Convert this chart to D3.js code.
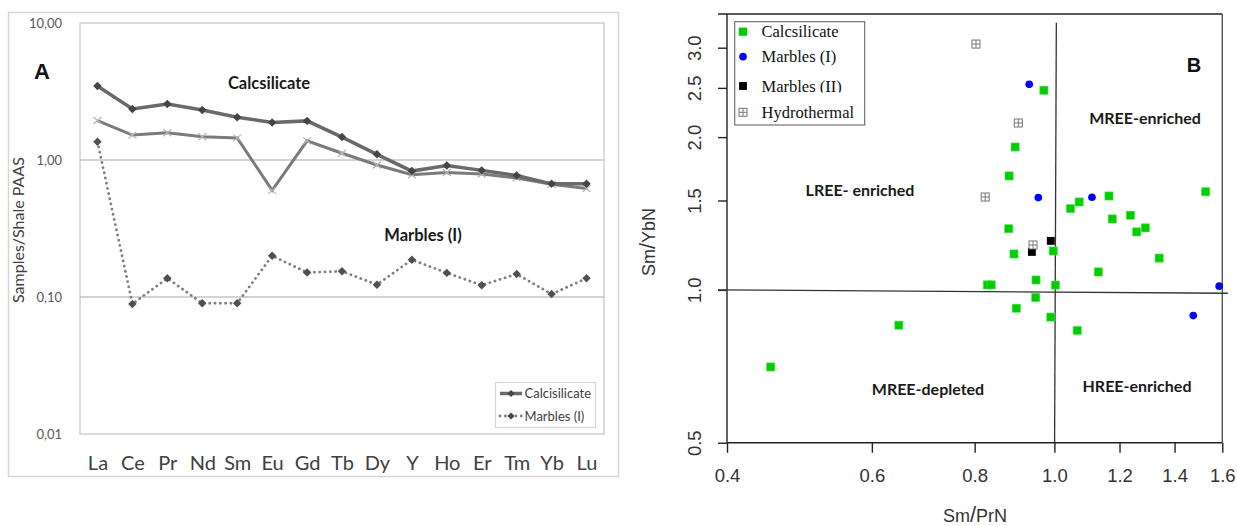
<!DOCTYPE html>
<html><head><meta charset="utf-8">
<script src="https://cdn.jsdelivr.net/npm/d3@7"></script>
<style>body{margin:0;background:#fff}</style>
</head><body><svg id="c" width="1237" height="526"></svg>
<script>
// ---------- Panel A data ----------
const elements = ["La","Ce","Pr","Nd","Sm","Eu","Gd","Tb","Dy","Y","Ho","Er","Tm","Yb","Lu"];
const calcsilicate = [3.47,2.36,2.56,2.32,2.05,1.88,1.93,1.47,1.10,0.83,0.91,0.84,0.77,0.67,0.67];
const calcsilicate2 = [1.94,1.52,1.58,1.48,1.45,0.60,1.38,1.12,0.92,0.78,0.81,0.79,0.74,0.665,0.62];
const marblesA = [1.36,0.089,0.137,0.090,0.090,0.200,0.151,0.154,0.123,0.187,0.150,0.122,0.147,0.105,0.137];
const yTicksA = [0.01,0.1,1,10];

// ---------- Panel B data ----------
const calcSmPr = [0.971,0.896,0.881,0.880,0.893,0.997,0.829,0.838,0.950,1.003,0.949,0.899,0.990,0.647,0.452,1.046,1.072,1.165,1.176,1.237,1.259,1.290,1.341,1.131,1.527,1.066];
const calcSmYb = [2.473,1.912,1.677,1.320,1.177,1.193,1.023,1.023,1.046,1.022,0.966,0.920,0.884,0.852,0.705,1.446,1.490,1.531,1.380,1.403,1.301,1.325,1.155,1.085,1.561,0.832];
const marbIsmPr = [0.932,0.956,1.111,1.586,1.475];
const marbIsmYb = [2.541,1.520,1.522,1.017,0.890];
const marbIIsmPr = [0.990,0.939];
const marbIIsmYb = [1.249,1.188];
const hydroSmPr = [0.803,0.904,0.824,0.942];
const hydroSmYb = [3.050,2.132,1.524,1.226];
const xTicksB = [0.4,0.6,0.8,1.0,1.2,1.4,1.6];
const yTicksB = [0.5,1.0,1.5,2.0,2.5,3.0];
const legendB = ["Calcsilicate","Marbles (I)","Marbles (II)","Hydrothermal"];

const svg = d3.select("#c");
svg.append("rect").attr("width",1237).attr("height",526).attr("fill","#fff");

// ================= Panel A =================
const A = svg.append("g");
const LATO = "Lato, 'Open Sans', sans-serif";
A.append("rect").attr("x",8.5).attr("y",12.5).attr("width",610).attr("height",464)
  .attr("fill","none").attr("stroke","#d6d6d6").attr("stroke-width",1.5);

const xA = d3.scalePoint().domain(elements).range([80,604]).padding(0.5);
const yA = d3.scaleLog().domain([0.01,10]).range([434,23]);

A.append("rect").attr("x",80).attr("y",23).attr("width",524).attr("height",411)
  .attr("fill","none").attr("stroke","#cfcfcf").attr("stroke-width",1.5);
A.selectAll(".grid").data([0.1,1]).join("line")
  .attr("x1",80).attr("x2",604).attr("y1",d=>yA(d)).attr("y2",d=>yA(d))
  .attr("stroke","#c4c4c4").attr("stroke-width",1.5);

const yAxA = A.append("g").attr("transform","translate(80,0)")
  .call(d3.axisLeft(yA).tickValues(yTicksA).tickSize(0).tickPadding(18)
    .tickFormat(d=>d3.format(".2f")(d).replace(".",",")));
yAxA.select(".domain").remove();
yAxA.selectAll("text").attr("font-family",LATO).attr("font-size",13).attr("fill","#595959");

const xAxA = A.append("g").attr("transform","translate(0,434)")
  .call(d3.axisBottom(xA).tickSize(0).tickPadding(22));
xAxA.select(".domain").remove();
xAxA.selectAll("text").attr("font-family",LATO).attr("font-size",20).attr("fill","#404040");

A.append("text").attr("transform","translate(24,230) rotate(-90)").attr("text-anchor","middle")
  .attr("font-family",LATO).attr("font-size",16).attr("fill","#404040").text("Samples/Shale PAAS");

const lineA = d3.line().x((d,i)=>xA(elements[i])).y(d=>yA(d));
A.append("path").datum(calcsilicate2).attr("d",lineA).attr("fill","none")
  .attr("stroke","#7b7b7b").attr("stroke-width",3);
A.selectAll(".xm").data(calcsilicate2).join("path")
  .attr("transform",(d,i)=>`translate(${xA(elements[i])},${yA(d)})`)
  .attr("d","M-4,-3.5L4,3.5M-4,3.5L4,-3.5").attr("stroke","#b5b5b5").attr("stroke-width",1.2);
A.append("path").datum(calcsilicate).attr("d",lineA).attr("fill","none")
  .attr("stroke","#6a6a6a").attr("stroke-width",3.5);
const diamond = d3.symbol().type(d3.symbolSquare).size(36);
A.selectAll(".dm").data(calcsilicate).join("path")
  .attr("transform",(d,i)=>`translate(${xA(elements[i])},${yA(d)}) rotate(45)`)
  .attr("d",diamond).attr("fill","#454545");
A.append("path").datum(marblesA).attr("d",lineA).attr("fill","none")
  .attr("stroke","#808080").attr("stroke-width",2.8).attr("stroke-linecap","round")
  .attr("stroke-dasharray","0.1 5.2");
A.selectAll(".dm2").data(marblesA).join("path")
  .attr("transform",(d,i)=>`translate(${xA(elements[i])},${yA(d)}) rotate(45)`)
  .attr("d",diamond).attr("fill","#505050");

A.append("text").attr("x",42).attr("y",79).attr("text-anchor","middle")
  .attr("font-family","'Liberation Sans', Arial, sans-serif").attr("font-weight","bold")
  .attr("font-size",22).attr("fill","#111").text("A");
A.append("text").attr("x",269).attr("y",89).attr("text-anchor","middle")
  .attr("font-family",LATO).attr("font-weight","bold").attr("font-size",16.5).attr("fill","#1a1a1a").text("Calcsilicate");
A.append("text").attr("x",423).attr("y",241).attr("text-anchor","middle")
  .attr("font-family",LATO).attr("font-weight","bold").attr("font-size",16.5).attr("fill","#1a1a1a").text("Marbles (I)");

// legend A
A.append("rect").attr("x",495.5).attr("y",382.5).attr("width",100).attr("height",45)
  .attr("fill","#fff").attr("stroke","#d6d6d6").attr("stroke-width",1.2);
const legA = [{name:"Calcisilicate",dash:null,w:3.5,c:"#6a6a6a"},{name:"Marbles (I)",dash:"0.1 5.2",w:2.8,c:"#808080"}];
const diamondS = d3.symbol().type(d3.symbolSquare).size(26);
legA.forEach((d,i)=>{
  const yy = 393.5 + i*22.5;
  A.append("line").attr("x1",500).attr("x2",522).attr("y1",yy).attr("y2",yy)
    .attr("stroke",d.c).attr("stroke-width",d.w).attr("stroke-linecap",d.dash?"round":"butt")
    .attr("stroke-dasharray",d.dash);
  A.append("path").attr("transform",`translate(511,${yy}) rotate(45)`).attr("d",diamondS).attr("fill","#454545");
  A.append("text").attr("x",524.5).attr("y",yy+4.5).attr("font-family",LATO).attr("font-size",13)
    .attr("fill","#404040").text(d.name);
});

// ================= Panel B =================
const B = svg.append("g");
const ARIAL = "'Liberation Sans', Arial, sans-serif";
const SERIF = "'Liberation Serif', 'Times New Roman', serif";
const xB = d3.scaleLog().domain([0.4,1.6]).range([727,1222.3]);
const yB = d3.scaleLog().domain([0.5,3.0]).range([442.7,47.7]);
const L = xB.range()[0], R = xB.range()[1], BOT = yB(0.5), TOP = 14;
const ink = "#222";

// frame
B.append("line").attr("x1",718).attr("x2",R).attr("y1",TOP).attr("y2",TOP).attr("stroke",ink).attr("stroke-width",1.4);
B.append("line").attr("x1",L).attr("x2",R).attr("y1",BOT).attr("y2",BOT).attr("stroke",ink).attr("stroke-width",1.4);
B.append("line").attr("x1",L).attr("x2",L).attr("y1",TOP).attr("y2",BOT).attr("stroke",ink).attr("stroke-width",1.4);
B.append("line").attr("x1",R).attr("x2",R).attr("y1",TOP).attr("y2",BOT).attr("stroke","#555").attr("stroke-width",1.4);

const xAxB = B.append("g").attr("transform",`translate(0,${BOT})`)
  .call(d3.axisBottom(xB).tickValues(xTicksB).tickFormat(d3.format(".1f")).tickSize(10).tickPadding(16));
xAxB.select(".domain").remove();
xAxB.selectAll("line").attr("stroke",ink).attr("stroke-width",1.4);
xAxB.selectAll("text").attr("font-family",ARIAL).attr("font-size",18.5).attr("fill","#333");

const yAxB = B.append("g").attr("transform",`translate(${L},0)`)
  .call(d3.axisLeft(yB).tickValues(yTicksB).tickFormat(d3.format(".1f")).tickSize(9));
yAxB.select(".domain").remove();
yAxB.selectAll("line").attr("stroke",ink).attr("stroke-width",1.4);
yAxB.selectAll("text").attr("transform","rotate(-90)").attr("x",0).attr("y",-32).attr("dy","0.35em")
  .attr("text-anchor","middle").attr("font-family",ARIAL).attr("font-size",18.5).attr("fill","#333");

// axis titles
const t1 = B.append("text").attr("transform","translate(655,242) rotate(-90)").attr("text-anchor","middle")
  .attr("font-family",ARIAL).attr("font-size",18).attr("fill","#333");
t1.append("tspan").text("Sm");
t1.append("tspan").attr("font-size",22).attr("font-weight","300").text("/");
t1.append("tspan").text("YbN");
const t2 = B.append("text").attr("x",975).attr("y",522).attr("text-anchor","middle")
  .attr("font-family",ARIAL).attr("font-size",18).attr("fill","#333");
t2.append("tspan").text("Sm");
t2.append("tspan").attr("font-size",22).text("/");
t2.append("tspan").text("PrN");

// quadrant lines
B.append("line").attr("x1",xB(0.39)).attr("x2",xB(1.625)).attr("y1",yB(1.0)).attr("y2",yB(0.985))
  .attr("stroke","#333").attr("stroke-width",1.3);
B.append("line").attr("x1",xB(1.0055)).attr("x2",xB(1.0006)).attr("y1",yB(3.36)).attr("y2",BOT)
  .attr("stroke","#333").attr("stroke-width",1.3);

// region labels
const regions = [["MREE-enriched",1145,124],["LREE- enriched",860,196],["MREE-depleted",928,395],["HREE-enriched",1137,392]];
B.selectAll(".reg").data(regions).join("text").attr("x",d=>d[1]).attr("y",d=>d[2]).attr("text-anchor","middle")
  .attr("font-family",LATO).attr("font-weight","bold").attr("font-size",16).attr("fill","#1a1a1a").text(d=>d[0]);
B.append("text").attr("x",1194).attr("y",72).attr("text-anchor","middle")
  .attr("font-family",ARIAL).attr("font-weight","bold").attr("font-size",20).attr("fill","#111").text("B");

// points
const green = "#00cd00";
const sq = d3.symbol().type(d3.symbolSquare).size(68);
const sqB = d3.symbol().type(d3.symbolSquare).size(62);
const circ = d3.symbol().type(d3.symbolCircle).size(46);
B.selectAll(".g").data(calcSmPr).join("path")
  .attr("transform",(d,i)=>`translate(${xB(d)},${yB(calcSmYb[i])})`).attr("d",sq)
  .attr("fill",green).attr("stroke","#5ee65e").attr("stroke-width",0.6);
B.selectAll(".b").data(marbIsmPr).join("path")
  .attr("transform",(d,i)=>`translate(${xB(d)},${yB(marbIsmYb[i])})`).attr("d",circ).attr("fill","#0000ff");
B.selectAll(".k").data(marbIIsmPr).join("path")
  .attr("transform",(d,i)=>`translate(${xB(d)},${yB(marbIIsmYb[i])})`).attr("d",sqB).attr("fill","#000");
function hydroSym(g){
  g.append("rect").attr("x",-4).attr("y",-4).attr("width",8).attr("height",8).attr("fill","#fff").attr("stroke","#777").attr("stroke-width",1);
  g.append("path").attr("d","M-4,0H4M0,-4V4").attr("stroke","#777").attr("stroke-width",1);
}
B.selectAll(".h").data(hydroSmPr).join("g")
  .attr("transform",(d,i)=>`translate(${xB(d)},${yB(hydroSmYb[i])})`).each(function(){hydroSym(d3.select(this));});

// legend B
B.append("rect").attr("x",734.7).attr("y",21.7).attr("width",130).attr("height",103.3)
  .attr("fill","#fff").attr("stroke","#666").attr("stroke-width",1.1);
const defs = svg.append("defs");
defs.append("clipPath").attr("id","clipII").append("rect").attr("x",740).attr("y",60).attr("width",120).attr("height",32.5);
const legY = [31.7,56.7,86,112.3];
legendB.forEach((name,i)=>{
  const g = B.append("g").attr("transform",`translate(743,${legY[i]})`);
  if(i===0) g.append("path").attr("d",sq).attr("fill",green);
  if(i===1) g.append("path").attr("d",circ).attr("fill","#0000ff");
  if(i===2) g.append("path").attr("d",sqB).attr("fill","#000");
  if(i===3) hydroSym(g);
  const t = B.append("text").attr("x",761.5).attr("y",legY[i]+5.5).attr("font-family",SERIF)
    .attr("font-size",16.5).attr("fill","#111").text(name);
  if(i===2) t.attr("clip-path","url(#clipII)");
});
</script></body></html>
